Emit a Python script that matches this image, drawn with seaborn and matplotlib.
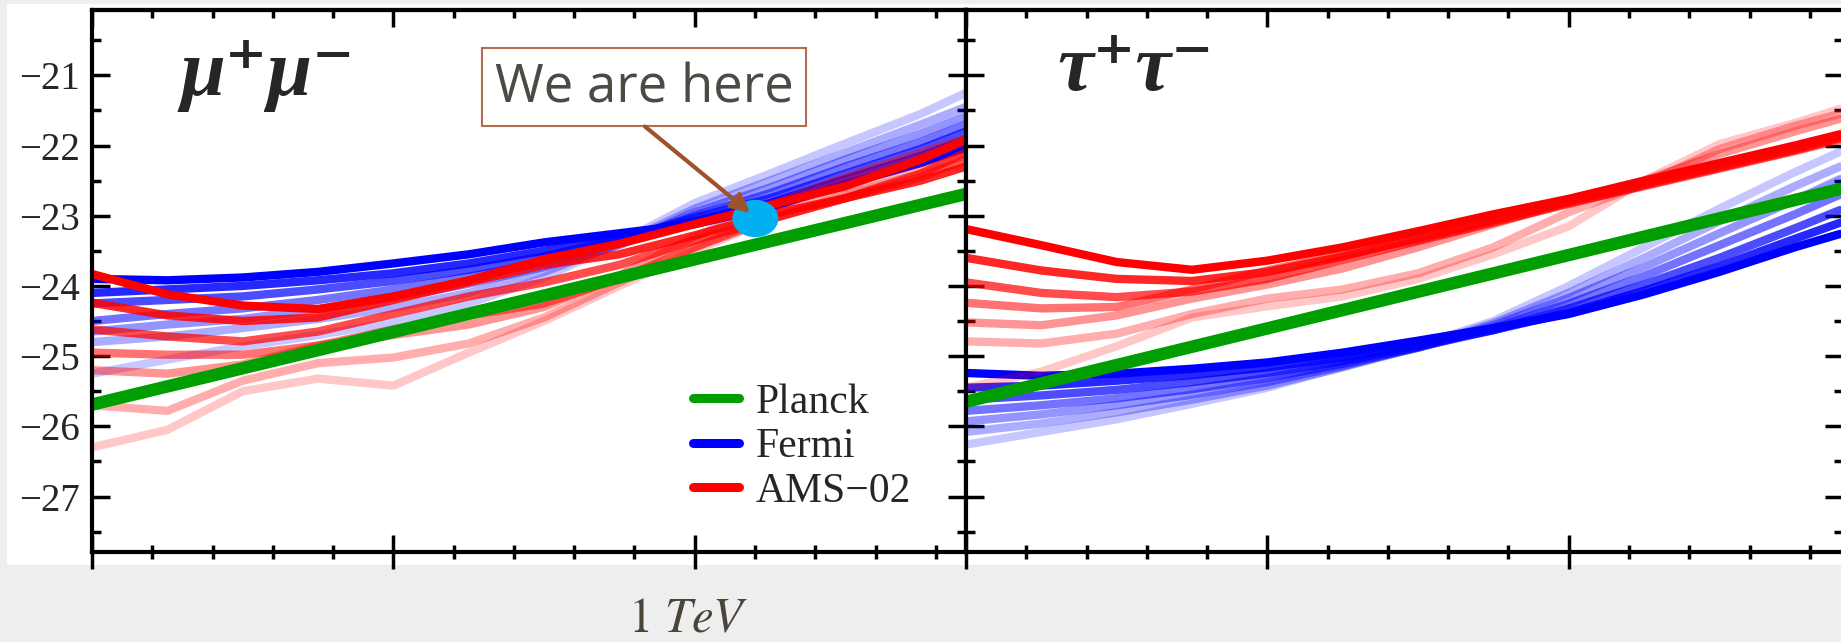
import matplotlib
matplotlib.use('Agg')
import matplotlib.pyplot as plt
import seaborn as sns
from matplotlib.lines import Line2D
from matplotlib.patches import Ellipse, Rectangle, FancyArrowPatch
from matplotlib.ticker import MultipleLocator

# x axis: log10 of the mass in GeV (1 TeV = 3)
mass = [1.0, 1.25, 1.5, 1.75, 2.0, 2.25, 2.5, 2.75, 3.0, 3.25, 3.5, 3.75, 3.9]
planck_mass = [1.0, 3.9]

# mu+ mu- panel
planck_mumu = [-25.69, -22.69]
fermi_mumu = [
    [-23.90, -23.92, -23.88, -23.80, -23.68, -23.55, -23.38, -23.25, -23.12, -22.88, -22.55, -22.25, -22.03],
    [-24.10, -24.05, -24.00, -23.92, -23.82, -23.68, -23.50, -23.30, -23.08, -22.82, -22.48, -22.15, -21.92],
    [-24.25, -24.20, -24.15, -24.05, -23.93, -23.77, -23.58, -23.33, -23.03, -22.75, -22.40, -22.05, -21.80],
    [-24.50, -24.40, -24.32, -24.20, -24.05, -23.87, -23.66, -23.38, -23.00, -22.68, -22.30, -21.95, -21.70],
    [-24.65, -24.55, -24.47, -24.33, -24.17, -23.97, -23.73, -23.42, -22.95, -22.60, -22.20, -21.83, -21.58],
    [-24.80, -24.72, -24.60, -24.47, -24.31, -24.10, -23.80, -23.40, -22.90, -22.50, -22.10, -21.70, -21.45],
    [-25.25, -25.05, -24.86, -24.70, -24.52, -24.25, -23.88, -23.38, -22.82, -22.40, -21.97, -21.55, -21.25],
]
ams_mumu = [
    [-23.83, -24.12, -24.28, -24.33, -24.15, -23.92, -23.62, -23.40, -23.12, -22.85, -22.58, -22.20, -21.92],
    [-24.24, -24.42, -24.50, -24.45, -24.20, -23.95, -23.70, -23.55, -23.28, -22.98, -22.75, -22.50, -22.30],
    [-24.62, -24.72, -24.79, -24.65, -24.40, -24.15, -23.95, -23.70, -23.35, -23.05, -22.75, -22.40, -22.10],
    [-24.95, -24.98, -24.98, -24.85, -24.62, -24.42, -24.25, -23.90, -23.45, -23.05, -22.75, -22.45, -22.20],
    [-25.20, -25.25, -25.12, -24.85, -24.70, -24.55, -24.30, -23.85, -23.30, -22.85, -22.45, -22.10, -21.90],
    [-25.70, -25.78, -25.35, -25.10, -25.02, -24.82, -24.45, -23.95, -23.45, -23.00, -22.65, -22.35, -22.15],
    [-26.30, -26.05, -25.50, -25.32, -25.42, -24.95, -24.50, -24.00, -23.50, -23.05, -22.70, -22.40, -22.25],
]

# tau+ tau- panel
planck_tautau = [-25.65, -22.62]
fermi_tautau = [
    [-25.24, -25.28, -25.25, -25.18, -25.09, -24.95, -24.78, -24.60, -24.40, -24.12, -23.80, -23.45, -23.26],
    [-25.45, -25.42, -25.35, -25.27, -25.16, -25.02, -24.84, -24.63, -24.38, -24.07, -23.72, -23.33, -23.10],
    [-25.62, -25.56, -25.48, -25.37, -25.24, -25.07, -24.87, -24.63, -24.32, -23.98, -23.60, -23.18, -22.92],
    [-25.78, -25.70, -25.60, -25.47, -25.31, -25.11, -24.88, -24.60, -24.25, -23.86, -23.42, -22.98, -22.70],
    [-25.93, -25.83, -25.70, -25.55, -25.37, -25.14, -24.88, -24.56, -24.17, -23.73, -23.25, -22.78, -22.48],
    [-26.08, -25.96, -25.80, -25.62, -25.42, -25.16, -24.87, -24.53, -24.10, -23.60, -23.08, -22.58, -22.30],
    [-26.26, -26.08, -25.90, -25.68, -25.45, -25.15, -24.85, -24.50, -24.00, -23.45, -22.90, -22.38, -22.09],
]
ams_tautau = [
    [-23.19, -23.42, -23.66, -23.77, -23.64, -23.45, -23.22, -22.98, -22.76, -22.50, -22.25, -22.00, -21.84],
    [-23.60, -23.78, -23.90, -23.93, -23.80, -23.58, -23.32, -23.06, -22.80, -22.55, -22.30, -22.05, -21.88],
    [-23.95, -24.10, -24.16, -24.08, -23.90, -23.63, -23.36, -23.10, -22.83, -22.57, -22.32, -22.07, -21.90],
    [-24.24, -24.32, -24.30, -24.05, -23.78, -23.55, -23.34, -23.08, -22.82, -22.58, -22.33, -22.08, -21.92],
    [-24.52, -24.56, -24.42, -24.18, -23.98, -23.75, -23.45, -23.12, -22.80, -22.50, -22.12, -21.80, -21.62],
    [-24.79, -24.82, -24.68, -24.40, -24.18, -24.05, -23.82, -23.45, -22.95, -22.55, -22.05, -21.72, -21.55],
    [-25.45, -25.22, -24.86, -24.45, -24.29, -24.15, -23.90, -23.55, -23.15, -22.50, -21.98, -21.68, -21.48],
]

shade = [1.0, 0.85, 0.7, 0.55, 0.42, 0.32, 0.22]
legend_labels = ['Planck', 'Fermi', 'AMS\u221202']
green, blue, red = '#009e00', '#0000ff', '#ff0000'

sns.set_style('white')
plt.rcParams['font.family'] = ['Liberation Serif', 'DejaVu Serif']
plt.rcParams['mathtext.fontset'] = 'stix'

W, H = 1841, 642
fig = plt.figure(figsize=(W / 100, H / 100), dpi=100, facecolor='#eeeeee')
# white picture area on the grey slide
fig.patches.append(Rectangle((7 / W, (H - 565) / H), 1, (565 - 4) / H, transform=fig.transFigure,
                             facecolor='white', edgecolor='none', zorder=-10))

axL = fig.add_axes([92 / W, (H - 552) / H, 874 / W, 542 / H])
axR = fig.add_axes([966 / W, (H - 552) / H, 877 / W, 542 / H])


def style_axes(ax, xmax, labels):
    ax.set_xlim(1.0, xmax)
    ax.set_ylim(-27.79, -20.07)
    ax.set_xlabel('')
    ax.set_ylabel('')
    ax.xaxis.set_major_locator(MultipleLocator(1))
    ax.xaxis.set_minor_locator(MultipleLocator(0.2))
    ax.yaxis.set_major_locator(MultipleLocator(1))
    ax.yaxis.set_minor_locator(MultipleLocator(0.5))
    ax.tick_params(axis='y', which='both', direction='in', left=True, right=True,
                   width=2.5, color='black', labelsize=28, pad=9, labelleft=labels)
    ax.tick_params(axis='y', which='major', length=13)
    ax.tick_params(axis='y', which='minor', length=6.5)
    ax.tick_params(axis='x', which='both', direction='inout', bottom=True, top=False,
                   labelbottom=False, width=2.5, color='black')
    ax.tick_params(axis='x', which='major', length=24)
    ax.tick_params(axis='x', which='minor', length=10)
    for sp in ax.spines.values():
        sp.set_linewidth(3)
        sp.set_color('black')
    top = ax.secondary_xaxis('top')
    top.xaxis.set_major_locator(MultipleLocator(1))
    top.xaxis.set_minor_locator(MultipleLocator(0.2))
    top.tick_params(axis='x', which='both', direction='in', labeltop=False, width=2.5, color='black')
    top.tick_params(axis='x', which='major', length=12)
    top.tick_params(axis='x', which='minor', length=5.5)
    top.spines['top'].set_linewidth(3)


def draw_panel(ax, fermi, ams, planck):
    for i in reversed(range(len(fermi))):
        sns.lineplot(x=mass, y=fermi[i], ax=ax, color=blue, alpha=shade[i], linewidth=6, legend=False)
    for i in reversed(range(len(ams))):
        sns.lineplot(x=mass, y=ams[i], ax=ax, color=red, alpha=shade[i], linewidth=6, legend=False)
    sns.lineplot(x=planck_mass, y=planck, ax=ax, color=green, linewidth=9, legend=False)


draw_panel(axL, fermi_mumu, ams_mumu, planck_mumu)
draw_panel(axR, fermi_tautau, ams_tautau, planck_tautau)
style_axes(axL, 3.9, True)
style_axes(axR, 3.91, False)

axL.text(0.1007, 0.843, '\u03bc\u207a\u03bc\u207b', transform=axL.transAxes, fontsize=58,
         fontweight='bold', fontstyle='italic', ha='left', va='baseline')
axR.text(0.104, 0.852, '\u03c4\u207a\u03c4\u207b', transform=axR.transAxes, fontsize=58,
         fontweight='bold', fontstyle='italic', ha='left', va='baseline')

handles = [Line2D([], [], color=c, linewidth=6.5) for c in [green, blue, red]]
axL.legend(handles, legend_labels, loc='center left', bbox_to_anchor=(0.6876, 0.1937),
           frameon=False, fontsize=30, handlelength=1.1, handletextpad=0.4,
           labelspacing=0.15, borderaxespad=0, borderpad=0)

# "We are here" call-out
axL.add_patch(Rectangle((0.4462, 0.786), 0.3707, 0.1439, transform=axL.transAxes,
                        facecolor='white', edgecolor='#b07050', linewidth=1.5, zorder=5))
axL.text(0.6316, 0.855, 'We are here', transform=axL.transAxes, fontsize=38,
         family=['Open Sans', 'DejaVu Sans'], color='#4d4a44', ha='center', va='center', zorder=6)
axL.add_patch(Ellipse((3.201, -23.04), 0.153, 0.53, facecolor='#00b0f0', edgecolor='none', zorder=6))
axL.add_patch(FancyArrowPatch((2.835, -21.73), (3.184, -22.96), arrowstyle='-|>', mutation_scale=28,
                              color='#a0522d', linewidth=3, shrinkA=0, shrinkB=0, zorder=7))

fig.text(688 / W, 1 - 620 / H, r'$1\ TeV$', fontsize=35, color='#4a4538', ha='center', va='center')

fig.savefig('out.png', dpi=100, facecolor=fig.get_facecolor())
